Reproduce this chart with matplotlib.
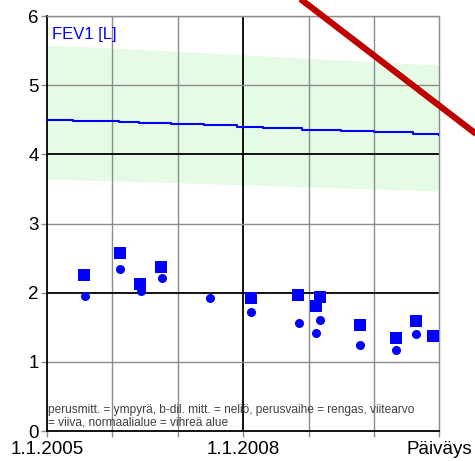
import numpy as np
import matplotlib
matplotlib.use("Agg")
import matplotlib.pyplot as plt
from matplotlib.lines import Line2D

plt.rcParams['font.family'] = ['Liberation Sans', 'DejaVu Sans']

# mittauspäivät desimaalivuosina
perus_x = [2005.58, 2006.12, 2006.43, 2006.76, 2007.49, 2008.12, 2008.85,
           2009.12, 2009.18, 2009.79, 2010.34, 2010.64]
perus_y = [1.96, 2.34, 2.02, 2.21, 1.93, 1.72, 1.56, 1.42, 1.61, 1.24, 1.17, 1.41]
bdil_x = [2005.57, 2006.11, 2006.42, 2006.75, 2008.12, 2008.84, 2009.11,
          2009.17, 2009.78, 2010.34, 2010.64, 2010.90]
bdil_y = [2.25, 2.58, 2.13, 2.37, 1.92, 1.97, 1.81, 1.94, 1.54, 1.34, 1.59, 1.38]

# viitearvo ja normaalialue
ref_x = [2005.0, 2005.4, 2005.6, 2006.1, 2006.4, 2006.9, 2007.4, 2007.9,
         2008.3, 2008.9, 2009.5, 2010.0, 2010.6, 2011.0]
ref_y = [4.50, 4.49, 4.48, 4.47, 4.46, 4.44, 4.42, 4.40, 4.38, 4.36,
         4.34, 4.32, 4.30, 4.28]
band_x = [2005.0, 2006.0, 2007.0, 2008.0, 2009.0, 2010.0, 2011.0]
band_lo = [3.64, 3.62, 3.59, 3.56, 3.53, 3.50, 3.47]
band_hi = [5.58, 5.54, 5.49, 5.44, 5.39, 5.34, 5.29]

xticks = [2005, 2008, 2011]
xticklabels = ['1.1.2005', '1.1.2008', 'Päiväys']

fig = plt.figure(figsize=(4.75, 4.61), dpi=100)
ax = fig.add_axes([0.099, 0.065, 0.826, 0.9])

grey = '#8c8c8c'
ax.fill_between(band_x, band_lo, band_hi, color='#e6fbe6', lw=0, zorder=1)

for yr in range(2006, 2011):
    ax.axvline(yr, color='black' if yr == 2008 else grey, lw=1.3 if yr == 2008 else 1.0, zorder=2)
for yv in range(1, 7):
    ax.axhline(yv, color='black' if yv in (2, 4) else grey, lw=1.3 if yv in (2, 4) else 1.0, zorder=2)

ax.plot(ref_x, ref_y, color='#0000ff', lw=1.5, drawstyle='steps-post', zorder=3)
ax.plot(bdil_x, bdil_y, 's', color='#0000ff', ms=8.3, mew=0, zorder=4)
ax.plot(perus_x, perus_y, 'o', color='#0000ff', ms=6.5, mew=0, zorder=5)

ax.set_xlim(2005, 2011)
ax.set_ylim(0, 6)
ax.set_xticks(range(2005, 2012))
ax.set_xticklabels(['' if t not in xticks else xticklabels[xticks.index(t)] for t in range(2005, 2012)])
ax.set_yticks(range(0, 7))
ax.tick_params(axis='both', labelsize=13.5, length=4, width=1, color=grey, pad=2)
ax.tick_params(axis='x', pad=3)

for side in ('top', 'right'):
    ax.spines[side].set_color(grey)
    ax.spines[side].set_linewidth(1.0)
for side in ('left', 'bottom'):
    ax.spines[side].set_color('black')
    ax.spines[side].set_linewidth(1.3)

ax.text(0.012, 0.975, 'FEV1 [L]', transform=ax.transAxes, color='#0000ff',
        fontsize=12, va='top', ha='left', zorder=6)
ax.text(0.003, 0.006, 'perusmitt. = ympyrä, b-dil. mitt. = neliö, perusvaihe = rengas, viitearvo\n'
        '= viiva, normaalialue = vihreä alue', transform=ax.transAxes,
        color='#404040', fontsize=8.6, va='bottom', ha='left', linespacing=1.1, zorder=6)

# punainen yliviivaus
fig.add_artist(Line2D([0.61, 1.02], [1.02, 0.6955], transform=fig.transFigure,
                      color='#c00000', lw=4.5, solid_capstyle='butt', zorder=10))

fig.savefig('out.png', dpi=100)
